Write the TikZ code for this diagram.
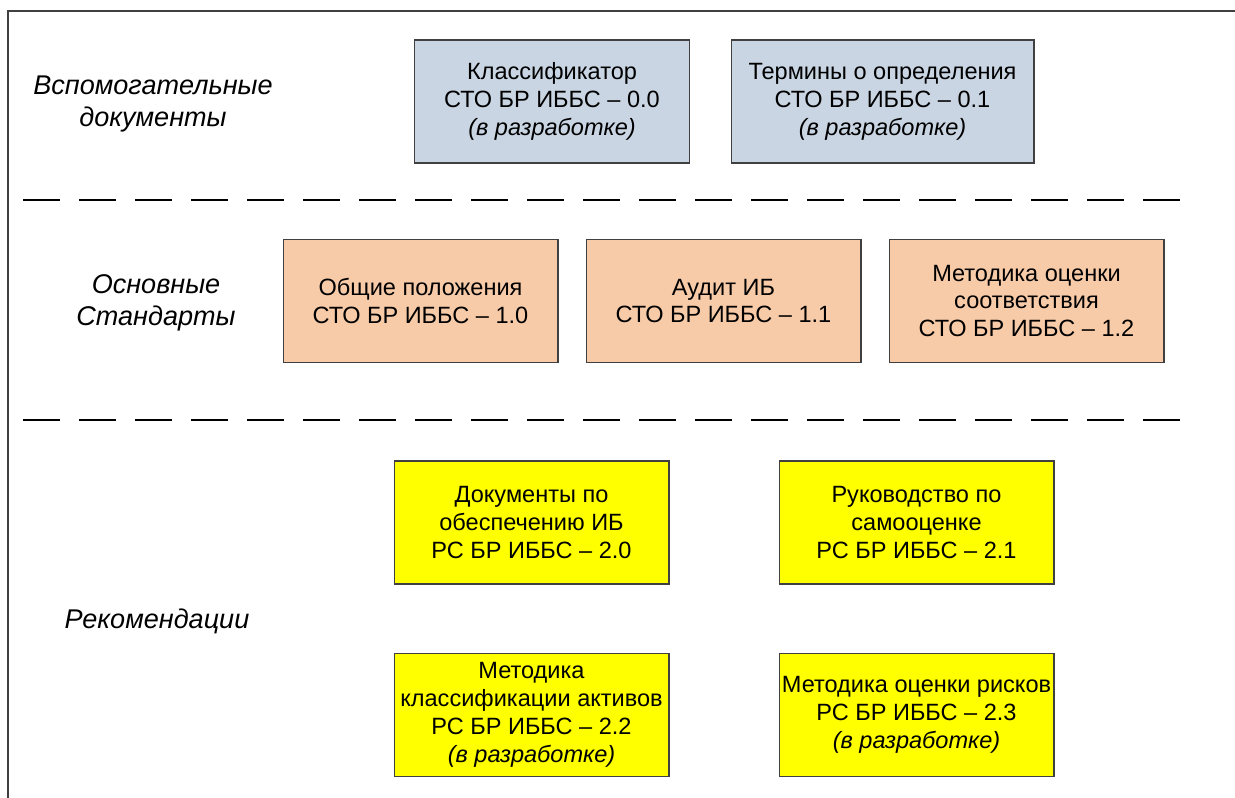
\documentclass[tikz,border=0pt]{standalone}
\usepackage{fontspec}
\setmainfont{Liberation Sans}
\usepackage{xcolor}
\usepackage{tikz}
\definecolor{auxfill}{HTML}{C9D5E3}
\definecolor{mainfill}{HTML}{F8CBA8}
\definecolor{recfill}{HTML}{FFFF00}
\definecolor{boxline}{HTML}{404040}

\begin{document}
\begin{tikzpicture}[x=0.02cm, y=-0.02cm,
		doc/.style={rectangle, draw=boxline, line width=0.6pt, inner sep=0pt, align=center,
			minimum width=5.5cm, minimum height=2.46cm, font=\fontsize{13.4}{15.9}\selectfont},
		level/.style={align=center, font=\fontsize{15.4}{18.6}\selectfont\itshape},
		sep/.style={line width=1.7pt, dash pattern=on 0.74cm off 0.38cm}]
		\useasboundingbox (0,0) rectangle (1235,798);
		\draw[boxline, line width=1.1pt] (8,798) -- (8,11) -- (1235,11);

		% Auxiliary documents
		\node[level] (L_aux) at (153,104) {Вспомогательные\\документы};
		\node (STO_00) at (552,101.5) [doc, fill=auxfill] {Классификатор\\СТО БР ИББС -- 0.0\\{\itshape(в разработке)}};
		\node (STO_01) at (882.5,101.5) [doc, fill=auxfill, minimum width=6.06cm] {Термины о определения\\СТО БР ИББС -- 0.1\\{\itshape(в разработке)}};

		\coordinate (S1_a) at (23,200);
		\coordinate (S1_b) at (1180,200);
		\draw[sep] (S1_a) -- (S1_b);

		% Main standards
		\node[level] (L_main) at (156,303) {Основные\\Стандарты};
		\node (STO_10) at (420.5,301) [doc, fill=mainfill] {Общие положения\\СТО БР ИББС -- 1.0};
		\node (STO_11) at (723.5,301) [doc, fill=mainfill] {Аудит ИБ\\СТО БР ИББС -- 1.1};
		\node (STO_12) at (1026.5,301) [doc, fill=mainfill] {Методика оценки\\соответствия\\СТО БР ИББС -- 1.2};

		\coordinate (S2_a) at (23,420);
		\coordinate (S2_b) at (1180,420);
		\draw[sep] (S2_a) -- (S2_b);

		% Recommendations
		\node[level] (L_rec) at (157,621) {Рекомендации};
		\node (RS_20) at (531.5,522.5) [doc, fill=recfill] {Документы по\\обеспечению ИБ\\РС БР ИББС -- 2.0};
		\node (RS_21) at (916.5,522.5) [doc, fill=recfill] {Руководство по\\самооценке\\РС БР ИББС -- 2.1};
		\node (RS_22) at (531.5,715) [doc, fill=recfill] {Методика\\классификации активов\\РС БР ИББС -- 2.2\\{\itshape(в разработке)}};
		\node (RS_23) at (916.5,715) [doc, fill=recfill] {Методика оценки рисков\\РС БР ИББС -- 2.3\\{\itshape(в разработке)}};
\end{tikzpicture}
\end{document}
